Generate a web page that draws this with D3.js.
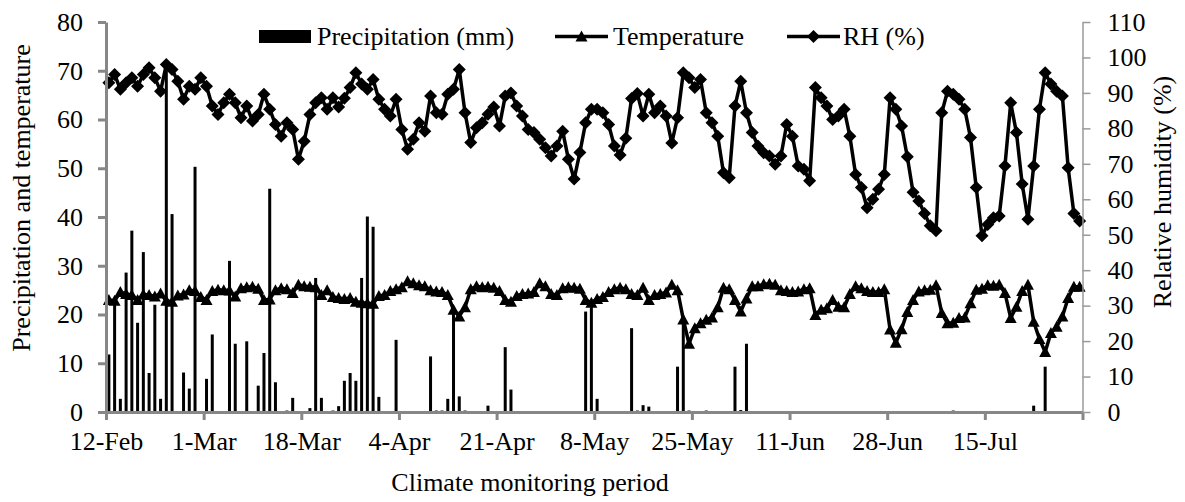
<!DOCTYPE html>
<html>
<head>
<meta charset="utf-8">
<script src="https://d3js.org/d3.v7.min.js"></script>
<style>
  body { margin: 0; background: #fff; }
  text { font-family: "Liberation Serif", "Times New Roman", serif; fill: #000; }
</style>
</head>
<body>
<div id="chart"></div>
<script>

// daily series, 12-Feb .. 31-Jul (170 days)
var tickLabels = ["12-Feb", "1-Mar", "18-Mar", "4-Apr", "21-Apr", "8-May", "25-May", "11-Jun", "28-Jun", "15-Jul"];

var precipitation = [
	11.8, 22, 2.7, 28.6, 37.2, 18.3, 32.8, 8.0, 22, 2.7,
	71, 40.6, 0, 8.1, 4.8, 50.3, 0, 6.8, 15.9, 0,
	0, 31.0, 14.0, 0, 14.5, 0, 5.4, 12.1, 45.8, 6.1,
	0, 0.3, 2.9, 0, 0, 0.8, 27.5, 2.9, 0, 0.3,
	1.2, 6.4, 8.0, 6.4, 27.5, 40.1, 38.0, 3.1, 0.2, 0,
	14.8, 0, 0, 0, 0, 0.2, 11.4, 0.3, 0.3, 2.7,
	21, 3.2, 0.3, 0, 0, 0, 1.3, 0, 0, 13.3,
	4.6, 0, 0, 0, 0, 0, 0, 0, 0, 0,
	0, 0, 0, 20.6, 21.5, 2.7, 0, 0, 0, 0,
	0, 17.2, 0.3, 1.4, 1.1, 0, 0, 0, 0, 9.3,
	19, 0.3, 0, 0, 0.3, 0, 0, 0, 0, 9.3,
	0.4, 14.0, 0, 0, 0, 0, 0, 0, 0, 0,
	0, 0, 0, 0, 0, 0, 0, 0, 0, 0,
	0, 0, 0, 0, 0, 0, 0, 0, 0, 0,
	0, 0, 0, 0, 0, 0, 0, 0.3, 0, 0,
	0, 0, 0, 0, 0, 0, 0, 0, 0, 0,
	0, 1.3, 0, 9.3, 0, 0, 0, 0, 0, 0
];

var temperature = [
	23.0, 22.8, 24.6, 24.2, 24.0, 23.0, 24.1, 24.0, 23.7, 24.3,
	22.8, 22.6, 23.9, 24.1, 25.0, 24.8, 23.6, 23.0, 24.8, 25.1,
	25.0, 24.9, 23.7, 25.4, 25.6, 25.7, 25.3, 23.0, 23.1, 25.0,
	25.4, 25.2, 24.4, 26.1, 25.8, 25.7, 25.6, 24.0, 25.0, 23.6,
	23.4, 23.2, 23.4, 22.6, 22.4, 22.3, 22.2, 23.8, 24.0, 24.8,
	25.2, 25.6, 26.8, 26.4, 26.0, 25.8, 25.0, 24.7, 24.6, 24.0,
	21.0, 19.6, 21.5, 25.2, 25.8, 25.6, 25.7, 25.5, 24.8, 23.0,
	22.6, 23.8, 24.2, 24.3, 24.6, 26.4, 25.8, 24.2, 24.0, 25.4,
	25.6, 25.5, 25.3, 23.0, 22.4, 23.2, 23.6, 24.6, 25.2, 25.5,
	25.2, 24.2, 24.0, 25.5, 23.0, 24.0, 24.2, 24.5, 26.1, 25.0,
	19.0, 14.0, 17.2, 18.2, 18.9, 19.4, 21.5, 25.5, 25.2, 23.0,
	20.6, 23.3, 25.8, 25.8, 26.2, 26.3, 26.1, 25.0, 24.8, 24.6,
	24.7, 25.2, 25.4, 19.9, 21.0, 21.3, 23.0, 21.6, 21.5, 24.2,
	25.8, 25.4, 24.8, 24.6, 24.6, 25.2, 16.9, 14.2, 17.0, 20.5,
	23.0, 24.7, 25.0, 25.1, 26.0, 20.3, 18.2, 18.3, 19.3, 19.4,
	22.3, 25.1, 25.3, 26.0, 25.9, 26.1, 24.4, 19.3, 21.6, 24.8,
	26.1, 18.5, 15.0, 12.3, 16.2, 17.5, 19.6, 23.4, 25.7, 25.7
];

var humidity = [
	92.9, 95.2, 91.0, 92.9, 94.3, 91.9, 95.2, 97.1, 94.3, 90.5,
	98.0, 96.6, 93.3, 88.2, 91.9, 91.0, 94.3, 91.9, 86.3, 83.9,
	87.2, 89.6, 87.2, 83.0, 86.3, 82.1, 83.9, 89.6, 85.4, 81.1,
	77.8, 81.6, 79.7, 71.3, 76.4, 83.9, 87.2, 88.6, 85.4, 88.6,
	86.0, 88.5, 91.5, 95.7, 92.5, 91.0, 93.8, 88.2, 85.4, 83.5,
	88.2, 79.7, 74.1, 76.9, 81.6, 79.2, 89.1, 84.4, 84.0, 89.6,
	91.0, 96.6, 84.4, 76.0, 80.2, 81.6, 84.0, 86.0, 80.7, 89.1,
	90.0, 86.3, 83.5, 79.7, 78.8, 76.9, 74.5, 72.2, 75.0, 79.2,
	71.3, 65.7, 73.2, 81.6, 85.4, 85.4, 84.4, 81.1, 75.0, 72.5,
	77.2, 88.4, 89.8, 83.5, 89.6, 84.4, 86.3, 83.5, 75.9, 83.0,
	95.7, 94.3, 91.5, 93.8, 84.4, 81.6, 77.8, 67.5, 66.1, 86.3,
	93.3, 84.4, 78.8, 75.0, 73.1, 72.2, 69.9, 72.2, 81.1, 77.8,
	69.4, 68.5, 65.2, 91.5, 88.6, 86.3, 82.5, 83.5, 85.4, 77.8,
	67.0, 63.3, 57.6, 60.0, 62.8, 67.0, 88.6, 85.4, 80.7, 72.0,
	62.0, 59.5, 56.0, 52.5, 51.1, 84.4, 90.5, 89.6, 88.2, 85.4,
	77.4, 63.3, 49.7, 52.9, 54.8, 55.3, 69.4, 87.2, 78.8, 64.3,
	54.4, 69.4, 85.4, 95.7, 92.5, 90.5, 89.1, 68.9, 56.0, 53.9
];

var nDays = precipitation.length;
// plot box (note: "top" is taken by window.top, so use other names)
var plotLeft = 106, plotRight = 1082.5, plotTop = 22, plotBottom = 412;

var svg = d3.select("#chart")
	.append("svg")
	.attr("width", 1185)
	.attr("height", 502);

// one band per day, labels every 17 days
var x = d3.scaleBand()
	.domain(d3.range(nDays))
	.range([plotLeft, plotRight]);
var xEdge = d3.scaleLinear()
	.domain([0, nDays])
	.range([plotLeft, plotRight]);
var yLeft = d3.scaleLinear().domain([0, 80]).range([plotBottom, plotTop]);
var yRight = d3.scaleLinear().domain([0, 110]).range([plotBottom, plotTop]);

function mid(i) { return x(i) + x.bandwidth() / 2; }

// bars first so the lines sit on top
var barW = 3;
svg.append("g").selectAll("rect")
	.data(precipitation)
	.enter().append("rect")
	.attr("x", function(d, i) { return mid(i) - barW / 2; })
	.attr("y", function(d) { return yLeft(d); })
	.attr("width", barW)
	.attr("height", function(d) { return plotBottom - yLeft(d); })
	.style("fill", "#000");

var triangle = "M0,-6L6,5L-6,5Z";
var diamond = "M0,-6.5L6.5,0L0,6.5L-6.5,0Z";

// temperature on the left axis
var tLine = d3.line()
	.x(function(d, i) { return mid(i); })
	.y(function(d) { return yLeft(d); });
svg.append("path")
	.datum(temperature)
	.attr("d", tLine)
	.style("fill", "none")
	.style("stroke", "#000")
	.style("stroke-width", 3.5)
	.style("stroke-linejoin", "round");
svg.append("g").selectAll("path")
	.data(temperature)
	.enter().append("path")
	.attr("d", triangle)
	.attr("transform", function(d, i) { return "translate(" + mid(i) + "," + yLeft(d) + ")"; })
	.style("fill", "#000");

// RH on the right axis
var hLine = d3.line()
	.x(function(d, i) { return mid(i); })
	.y(function(d) { return yRight(d); });
svg.append("path")
	.datum(humidity)
	.attr("d", hLine)
	.style("fill", "none")
	.style("stroke", "#000")
	.style("stroke-width", 3.5)
	.style("stroke-linejoin", "round");
svg.append("g").selectAll("path")
	.data(humidity)
	.enter().append("path")
	.attr("d", diamond)
	.attr("transform", function(d, i) { return "translate(" + mid(i) + "," + yRight(d) + ")"; })
	.style("fill", "#000");

// axes
var xAxis = svg.append("g")
	.attr("transform", "translate(0," + plotBottom + ")")
	.call(d3.axisBottom(xEdge)
		.tickValues(d3.range(0, nDays + 1, 17))
		.tickFormat(function(d, i) { return tickLabels[i] || ""; })
		.tickSize(8)
		.tickSizeOuter(0)
		.tickPadding(12));

var lAxis = svg.append("g")
	.attr("transform", "translate(" + plotLeft + ",0)")
	.call(d3.axisLeft(yLeft)
		.tickValues(d3.range(0, 81, 10))
		.tickSize(8)
		.tickSizeOuter(0)
		.tickPadding(15));

var rAxis = svg.append("g")
	.attr("transform", "translate(" + plotRight + ",0)")
	.call(d3.axisRight(yRight)
		.tickValues(d3.range(0, 111, 10))
		.tickSize(8)
		.tickSizeOuter(0)
		.tickPadding(17));

[xAxis, lAxis].forEach(function(g) {
	g.selectAll("path, line").style("stroke", "#878787").style("stroke-width", 3);
});
rAxis.selectAll("path, line").style("stroke", "#9a9a9a").style("stroke-width", 1.5);
[xAxis, lAxis, rAxis].forEach(function(g) {
	g.selectAll("text").style("font-size", "26px").style("fill", "#000")
		.style("font-family", "'Liberation Serif', 'Times New Roman', serif");
});

// axis titles
svg.append("text")
	.attr("x", 530).attr("y", 491)
	.attr("text-anchor", "middle")
	.style("font-size", "26px")
	.text("Climate monitoring period");
svg.append("text")
	.attr("transform", "translate(30,198) rotate(-90)")
	.attr("text-anchor", "middle")
	.style("font-size", "26px")
	.text("Precipitation and temperature");
svg.append("text")
	.attr("transform", "translate(1171,192) rotate(-90)")
	.attr("text-anchor", "middle")
	.style("font-size", "26px")
	.text("Relative humidity (%)");

// legend
var legend = svg.append("g");
legend.append("rect")
	.attr("x", 259).attr("y", 30)
	.attr("width", 52).attr("height", 13)
	.style("fill", "#000");
legend.append("text").attr("x", 317).attr("y", 44.5)
	.style("font-size", "26px").text("Precipitation (mm)");

legend.append("line")
	.attr("x1", 555).attr("x2", 608).attr("y1", 36.5).attr("y2", 36.5)
	.style("stroke", "#000").style("stroke-width", 3.5);
legend.append("path").attr("d", triangle)
	.attr("transform", "translate(581.5,36.5)");
legend.append("text").attr("x", 613).attr("y", 44.5)
	.style("font-size", "26px").text("Temperature");

legend.append("line")
	.attr("x1", 787).attr("x2", 840).attr("y1", 36.5).attr("y2", 36.5)
	.style("stroke", "#000").style("stroke-width", 3.5);
legend.append("path").attr("d", diamond)
	.attr("transform", "translate(813.5,36.5)");
legend.append("text").attr("x", 843).attr("y", 44.5)
	.style("font-size", "26px").text("RH (%)");

</script>
</body>
</html>
